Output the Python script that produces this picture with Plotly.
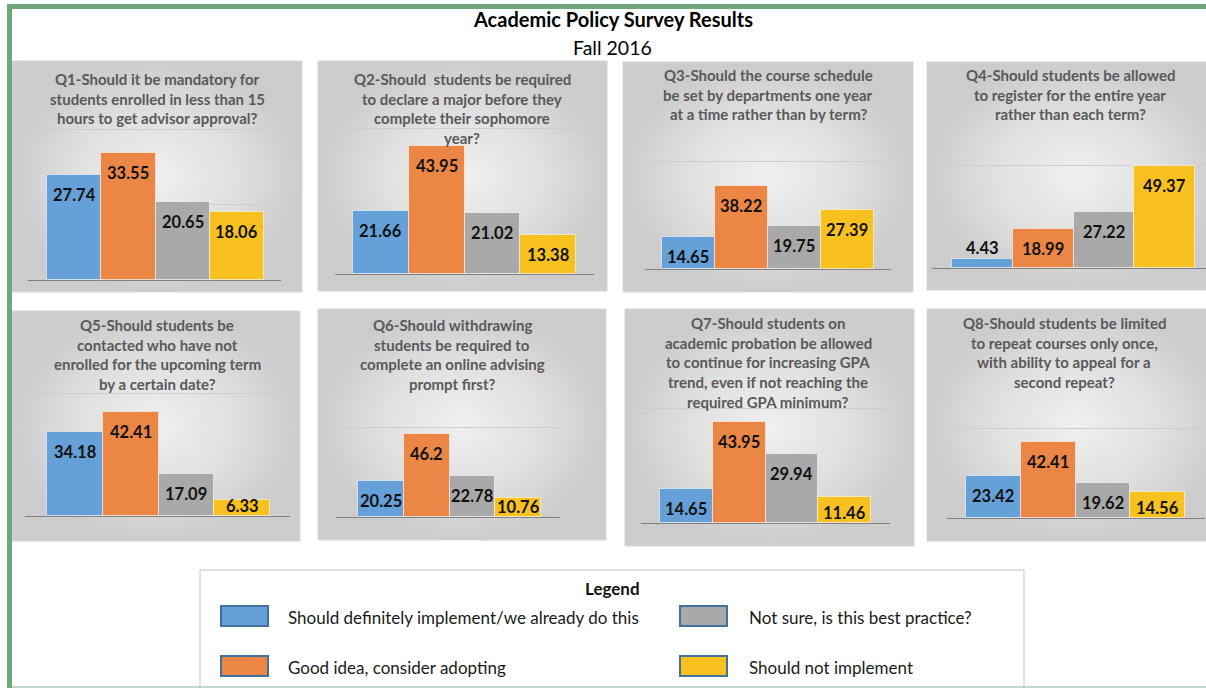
import plotly.graph_objects as go

# ---------------- data ----------------
series_names = [
    "Should definitely implement/we already do this",
    "Good idea, consider adopting",
    "Not sure, is this best practice?",
    "Should not implement",
]
series_colors = ["#66a0d8", "#eb8644", "#a9a9a9", "#f8c11f"]

question_titles = [
    ["Q1-Should it be mandatory for", "students enrolled in less than 15", "hours to get advisor approval?"],
    ["Q2-Should  students be required", "to declare a major before they", "complete their sophomore", "year?"],
    ["Q3-Should the course schedule", "be set by departments one year", "at a time rather than by term?"],
    ["Q4-Should students be allowed", "to register for the entire year", "rather than each term?"],
    ["Q5-Should students be", "contacted who have not", "enrolled for the upcoming term", "by a certain date?"],
    ["Q6-Should withdrawing", "students be required to", "complete an online advising", "prompt first?"],
    ["Q7-Should students on", "academic probation be allowed", "to continue for increasing GPA",
     "trend, even if not reaching the", "required GPA minimum?"],
    ["Q8-Should students be limited", "to repeat courses only once,", "with ability to appeal for a", "second repeat?"],
]

q1_values = [27.74, 33.55, 20.65, 18.06]
q2_values = [21.66, 43.95, 21.02, 13.38]
q3_values = [14.65, 38.22, 19.75, 27.39]
q4_values = [4.43, 18.99, 27.22, 49.37]
q5_values = [34.18, 42.41, 17.09, 6.33]
q6_values = [20.25, 46.2, 22.78, 10.76]
q7_values = [14.65, 43.95, 29.94, 11.46]
q8_values = [23.42, 42.41, 19.62, 14.56]
all_values = [q1_values, q2_values, q3_values, q4_values,
              q5_values, q6_values, q7_values, q8_values]

grid_values = [40, 50, 50, 50, 50, 50, 50, 50]   # top gridline value of each panel
grid_steps = [20, 50, 50, 50, 50, 50, 50, 50]

chart_title = "Academic Policy Survey Results"
chart_subtitle = "Fall 2016"
legend_title = "Legend"

# ---------------- layout (pixels) ----------------
W, H = 1206, 688
FONT = "Lato"


def X(px):
    return min(1.0, max(0.0, px / W))


def Y(py):
    return min(1.0, max(0.0, 1 - py / H))


# panel rect, plot x-extent, bar group extent, baseline y, gridline y, title centre x, first title line y
panels = [
    dict(rect=(12, 61, 302, 292), xa=(28, 281), bars=(47, 264), yb=280, yg=129, tx=157, ty=79),
    dict(rect=(318, 61, 607, 291), xa=(335, 594), bars=(353, 576), yb=274, yg=128, tx=462, ty=79),
    dict(rect=(623, 62, 913, 292), xa=(645, 891), bars=(662, 874), yb=269, yg=161, tx=768, ty=75),
    dict(rect=(927, 62, 1226, 290), xa=(932, 1206), bars=(952, 1195), yb=268, yg=165, tx=1070, ty=75),
    dict(rect=(12, 311, 300, 541), xa=(25, 290), bars=(47, 270), yb=516, yg=393, tx=157, ty=325),
    dict(rect=(318, 309, 606, 540), xa=(336, 560), bars=(358, 541), yb=517, yg=427, tx=452, ty=325),
    dict(rect=(625, 309, 914, 546), xa=(641, 890), bars=(660, 871), yb=523, yg=408, tx=768, ty=323),
    dict(rect=(927, 309, 1226, 541), xa=(947, 1205), bars=(966, 1185), yb=518, yg=428, tx=1064, ty=323),
]
TITLE_LINE = 19.7

fig = go.Figure()
layout = dict(
    width=W, height=H, autosize=False,
    margin=dict(l=0, r=0, t=0, b=0),
    paper_bgcolor="white", plot_bgcolor="rgba(0,0,0,0)",
    showlegend=False, bargap=0,
    font=dict(family=FONT),
    xaxis=dict(domain=[0, 1], range=[0, W], visible=False, fixedrange=True),
    yaxis=dict(domain=[0, 1], range=[H, 0], visible=False, fixedrange=True),
)
shapes = []
annotations = []

# panel backgrounds (gradient filled polygons on a full-page pixel axis)
for p in panels:
    x0, y0, x1, y1 = p["rect"]
    fig.add_trace(go.Scatter(
        x=[x0, x1, x1, x0, x0], y=[y0, y0, y1, y1, y0],
        mode="lines", fill="toself",
        fillgradient=dict(type="radial", colorscale=[[0, "#f0f0f0"], [0.55, "#e0e0e0"], [1, "#cccccc"]]),
        line=dict(color="#d6d6d6", width=1),
        hoverinfo="skip", xaxis="x", yaxis="y",
    ))

for k, (p, vals) in enumerate(zip(panels, all_values)):
    n = k + 2
    xa0, xa1 = p["xa"]
    b0, b1 = p["bars"]
    slot = (b1 - b0) / len(vals)
    xr = [-0.5 - (b0 - xa0) / slot, len(vals) - 0.5 + (xa1 - b1) / slot]
    ytop = p["yg"] - 8
    rtop = grid_values[k] * (p["yb"] - ytop) / (p["yb"] - p["yg"])
    ppu = (p["yb"] - ytop) / rtop

    layout[f"xaxis{n}"] = dict(
        domain=[X(xa0), X(xa1)], range=xr, anchor=f"y{n}", type="category",
        showticklabels=False, ticks="", showgrid=False, zeroline=False,
        showline=True, linecolor="#808080", linewidth=1, layer="below traces", fixedrange=True,
    )
    layout[f"yaxis{n}"] = dict(
        domain=[Y(p["yb"]), Y(ytop)], range=[0, rtop], anchor=f"x{n}",
        showticklabels=False, ticks="", showgrid=True, gridcolor="#cdcdcd", gridwidth=1,
        tick0=0, dtick=grid_steps[k], zeroline=False, showline=False, fixedrange=True,
    )

    fig.add_trace(go.Bar(
        x=series_names, y=vals, marker=dict(color=series_colors,
                                            line=dict(color="rgba(255,255,255,0.55)", width=1)),
        width=1.0, xaxis=f"x{n}", yaxis=f"y{n}", hoverinfo="x+y",
    ))

    # data labels
    for name, v in zip(series_names, vals):
        h = v * ppu
        if h < 12:
            ys = 11
        else:
            ys = -min(20, max(3, h - 10))
        annotations.append(dict(
            x=name, y=v, xref=f"x{n}", yref=f"y{n}", text=f"{v:g}", showarrow=False,
            yshift=ys, yanchor="middle",
            font=dict(family=FONT, size=16.5, color="#111111", weight="bold"),
        ))

    # panel title (one annotation per line)
    for i, line in enumerate(question_titles[k]):
        annotations.append(dict(
            x=X(p["tx"]), y=Y(p["ty"] + i * TITLE_LINE), xref="paper", yref="paper",
            text=line, showarrow=False, xanchor="center", yanchor="middle",
            font=dict(family=FONT, size=15, color="#595959", weight="bold"),
        ))

# main titles
annotations.append(dict(x=X(613), y=Y(19), xref="paper", yref="paper", text=chart_title,
                        showarrow=False, xanchor="center", yanchor="middle",
                        font=dict(family=FONT, size=20, color="#000000", weight="bold")))
annotations.append(dict(x=X(612), y=Y(47), xref="paper", yref="paper", text=chart_subtitle,
                        showarrow=False, xanchor="center", yanchor="middle",
                        font=dict(family=FONT, size=19.5, color="#000000")))

# green frame
GREEN = "#6fa67a"
shapes.append(dict(type="rect", xref="paper", yref="paper", x0=7 / W, x1=(W + 2) / W, y0=1 - 4 / H, y1=1 - 9 / H,
                   fillcolor=GREEN, line=dict(width=0), layer="above"))
shapes.append(dict(type="rect", xref="paper", yref="paper", x0=7 / W, x1=12 / W, y0=1 - 4 / H, y1=1 - (H + 2) / H,
                   fillcolor=GREEN, line=dict(width=0), layer="above"))
shapes.append(dict(type="line", xref="paper", yref="paper", x0=12 / W, x1=1, y0=1 - 687 / H, y1=1 - 687 / H,
                   line=dict(color="#a8cdb0", width=1.5), layer="above"))

# legend box
shapes.append(dict(type="rect", xref="paper", yref="paper", x0=200 / W, x1=1024 / W, y0=1 - 570 / H,
                   y1=1 - (H + 5) / H, fillcolor="white", line=dict(color="#c4c4c4", width=1), layer="below"))
annotations.append(dict(x=X(612), y=Y(588), xref="paper", yref="paper", text=legend_title,
                        showarrow=False, xanchor="center", yanchor="middle",
                        font=dict(family=FONT, size=17, color="#111111", weight="bold")))
sw_x = [221, 680]
sw_w = 47
sw_y = [606, 656]
sw_h = 20
txt_x = [286, 747]
for i, (name, col) in enumerate(zip(series_names, series_colors)):
    c, r = i // 2, i % 2
    shapes.append(dict(type="rect", xref="paper", yref="paper",
                       x0=X(sw_x[c]), x1=X(sw_x[c] + sw_w), y0=Y(sw_y[r]), y1=Y(sw_y[r] + sw_h),
                       fillcolor=col, line=dict(color="#41719c", width=2), layer="above"))
    annotations.append(dict(x=X(txt_x[c]), y=Y(sw_y[r] + sw_h / 2 + 1), xref="paper", yref="paper",
                            text=name, showarrow=False, xanchor="left", yanchor="middle",
                            font=dict(family=FONT, size=17, color="#1a1a1a")))

layout["shapes"] = shapes
layout["annotations"] = annotations
fig.update_layout(**layout)
fig.write_html("out.html",
               config={"displayModeBar": False},
               post_script="document.body.style.margin='0';document.body.style.overflow='hidden';")
